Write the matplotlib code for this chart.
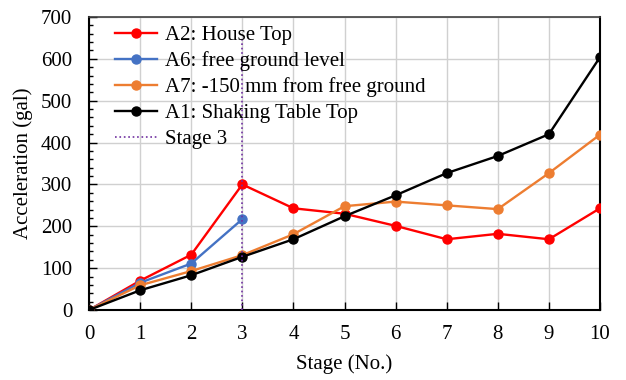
import matplotlib
matplotlib.use("Agg")
import matplotlib.pyplot as plt
from matplotlib.ticker import MultipleLocator

plt.rcParams['font.family'] = ['Liberation Serif', 'DejaVu Serif']

stages = [0, 1, 2, 3, 4, 5, 6, 7, 8, 9, 10]
a2_house_top = [0, 70, 132, 300, 243, 230, 201, 169, 182, 169, 243]
a6_stages = [0, 1, 2, 3]
a6_free_ground = [0, 65, 111, 217]
a7_minus150 = [0, 59, 93, 131, 181, 248, 259, 250, 241, 327, 419]
a1_table_top = [0, 47, 83, 127, 169, 224, 274, 327, 368, 420, 604]
stage3_x = 3
stage3_range = [0, 650]

fig = plt.figure(figsize=(6.26, 3.8), dpi=100)
ax = fig.add_axes([89/626, 1-310/380, (600-89)/626, (310-17)/380])

ms = 6.5
lw = 1.7
ax.plot(stages, a2_house_top, color='#FF0000', marker='o', ms=ms, lw=lw, label='A2: House Top', zorder=4)
ax.plot(a6_stages, a6_free_ground, color='#4472C4', marker='o', ms=ms, lw=lw, label='A6: free ground level', zorder=4)
ax.plot(stages, a7_minus150, color='#ED7D31', marker='o', ms=ms, lw=lw, label='A7: -150 mm from free ground', zorder=4)
ax.plot(stages, a1_table_top, color='#000000', marker='o', ms=ms, lw=lw, label='A1: Shaking Table Top', zorder=4)
ax.plot([stage3_x, stage3_x], stage3_range, color='#7030A0', ls=':', lw=1.2, label='Stage 3', zorder=5)

ax.set_xlim(0, 10)
ax.set_ylim(0, 700)
ax.xaxis.set_major_locator(MultipleLocator(1))
ax.yaxis.set_major_locator(MultipleLocator(100))
ax.yaxis.set_minor_locator(MultipleLocator(20))
ax.grid(True, which='major', color='#D0D0D0', lw=1.0)
ax.set_axisbelow(True)
ax.tick_params(axis='both', which='major', direction='in', length=6, width=1, labelsize=15)
ax.tick_params(axis='x', which='major', pad=11)
ax.tick_params(axis='y', which='major', pad=12)
ax.tick_params(axis='y', which='minor', direction='in', length=3, width=1)
ax.tick_params(axis='x', which='minor', bottom=False)
for s in ['left', 'bottom', 'right']:
    ax.spines[s].set_color('black')
    ax.spines[s].set_linewidth(1.5)
ax.spines['top'].set_color('#404040')
ax.spines['top'].set_linewidth(1.2)

ax.set_xlabel('Stage (No.)', fontsize=15, labelpad=7)
ax.set_ylabel('Acceleration (gal)', fontsize=15, labelpad=6)

leg = ax.legend(loc='upper left', frameon=False, fontsize=15, handlelength=2.0,
                borderaxespad=0.0, labelspacing=0.3, handletextpad=0.4,
                bbox_to_anchor=(0.035, 1.0))

fig.savefig('out.png', dpi=100)
